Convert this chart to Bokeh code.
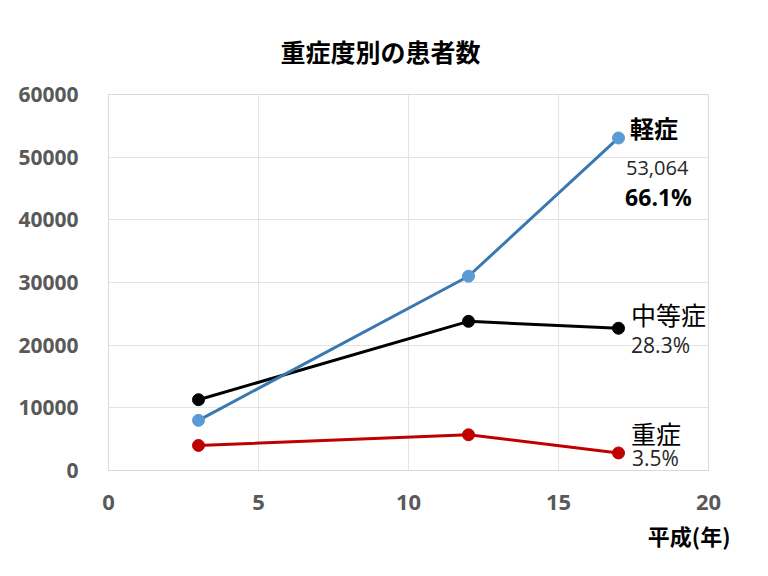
from bokeh.plotting import figure
from bokeh.models import Range1d, Label, FixedTicker, ColumnDataSource, Title
from bokeh.embed import file_html
from bokeh.resources import INLINE

years = [3, 12, 17]
mild = [8000, 31000, 53064]
moderate = [11300, 23800, 22700]
severe = [4000, 5700, 2800]

names = ["軽症", "中等症", "重症"]
mild_value_label = "53,064"
shares = ["66.1%", "28.3%", "3.5%"]
title_text = "重症度別の患者数"
x_title = "平成(年)"
x_ticks = [0, 5, 10, 15, 20]
y_ticks = [0, 10000, 20000, 30000, 40000, 50000, 60000]

FONT = "Noto Sans CJK JP"

p = figure(width=768, height=576, output_backend="svg", toolbar_location=None,
           x_range=Range1d(0, 20), y_range=Range1d(0, 60000),
           min_border_left=108, min_border_right=60, min_border_top=94,
           min_border_bottom=106)
p.title.visible = False
p.outline_line_color = "#d9d9d9"
p.background_fill_color = "white"
p.border_fill_color = "white"

for ax in (p.xaxis, p.yaxis):
    ax.axis_line_color = "#d9d9d9"
    ax.major_tick_line_color = None
    ax.minor_tick_line_color = None
    ax.major_label_text_color = "#595959"
    ax.major_label_text_font = "Open Sans"
    ax.major_label_text_font_style = "bold"
p.xaxis.major_label_text_font_size = "22px"
p.yaxis.major_label_text_font_size = "21px"
p.xaxis.ticker = FixedTicker(ticks=x_ticks)
p.yaxis.ticker = FixedTicker(ticks=y_ticks)
p.xaxis.major_label_standoff = 18
p.yaxis.major_label_standoff = 24
p.xgrid.ticker = FixedTicker(ticks=x_ticks)
p.ygrid.ticker = FixedTicker(ticks=y_ticks)
p.xgrid.grid_line_color = "#e3e3e3"
p.ygrid.grid_line_color = "#e3e3e3"

p.add_layout(Title(text=title_text, align="left", text_font=FONT,
                   text_font_size="25px", text_font_style="bold",
                   text_color="black", standoff=51, offset=172), "above")
p.add_layout(Title(text=x_title, align="right", text_font=FONT,
                   text_font_size="22px", text_font_style="bold",
                   text_color="black", offset=-22, standoff=8), "below")

src = ColumnDataSource(dict(x=years, mild=mild, moderate=moderate, severe=severe))

p.line("x", "moderate", source=src, line_color="black", line_width=3)
p.scatter("x", "moderate", source=src, size=12, fill_color="black", line_color="black")
p.line("x", "mild", source=src, line_color="#3a78b0", line_width=3)
p.scatter("x", "mild", source=src, size=12, fill_color="#5b9bd5", line_color="#5b9bd5")
p.line("x", "severe", source=src, line_color="#c00000", line_width=3)
p.scatter("x", "severe", source=src, size=12, fill_color="#c00000", line_color="#c00000")

def lab(x, y, text, size, bold=False, align="left", color="black", font=FONT):
    p.add_layout(Label(x=x, y=y, text=text, text_font=font, text_font_size=size,
                       text_font_style="bold" if bold else "normal",
                       text_align=align, text_baseline="middle", text_color=color))

# vertical positions in data units (value axis); 1 px ~ 159.6 units
lab(17.38, 54800, names[0], "24px", bold=True)
lab(17.25, 48350, mild_value_label, "20px", font="Open Sans", color="#262626")
lab(17.22, 43720, shares[0], "23px", bold=True, font="Open Sans")
lab(17.42, 25050, names[1], "25px")
lab(17.42, 19950, shares[1], "21px", font="Open Sans", color="#262626")
lab(17.42, 6060, names[2], "25px")
lab(17.45, 1920, shares[2], "21px", font="Open Sans", color="#262626")

open("out.html", "w").write(file_html(p, INLINE))
